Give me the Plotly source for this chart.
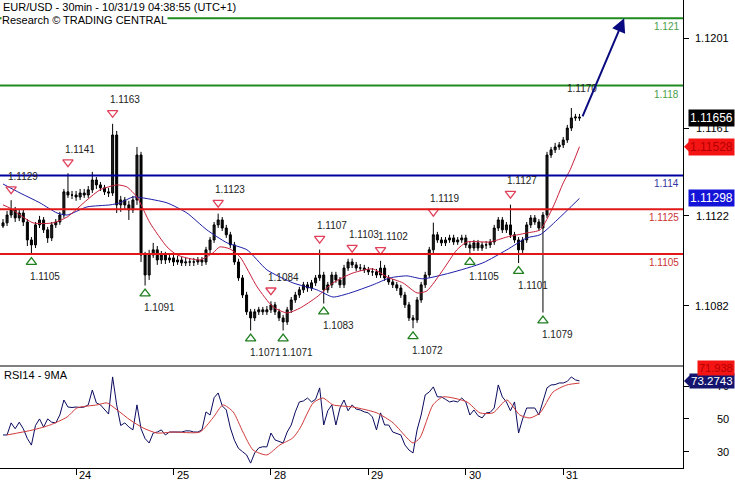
import plotly.graph_objects as go

# ---------------- data (hourly sampling of the 30-min chart) ----------------
bars = list(range(143))

closes = [1.11189, 1.11224, 1.11247, 1.11211, 1.11233, 1.11193, 1.11113, 1.11091, 1.11180, 1.11202,
          1.11158, 1.11122, 1.11180, 1.11193, 1.11224, 1.11327, 1.11313, 1.11313, 1.11304, 1.11322,
          1.11313, 1.11336, 1.11380, 1.11358, 1.11345, 1.11327, 1.11322, 1.11580, 1.11269, 1.11291,
          1.11269, 1.11247, 1.11291, 1.11491, 1.11046, 1.10957, 1.11046, 1.11069, 1.11024, 1.11046,
          1.11024, 1.11033, 1.11015, 1.11024, 1.11011, 1.11015, 1.11015, 1.11015, 1.11024, 1.11015,
          1.11069, 1.11113, 1.11180, 1.11202, 1.11166, 1.11136, 1.11091, 1.11015, 1.10944, 1.10868,
          1.10793, 1.10766, 1.10793, 1.10802, 1.10793, 1.10802, 1.10824, 1.10793, 1.10766, 1.10748,
          1.10802, 1.10846, 1.10868, 1.10891, 1.10913, 1.10899, 1.10922, 1.10944, 1.10957, 1.10891,
          1.10913, 1.10957, 1.10935, 1.10913, 1.10988, 1.11015, 1.11002, 1.10988, 1.10988, 1.10980,
          1.10971, 1.10971, 1.10957, 1.10988, 1.10944, 1.10926, 1.10913, 1.10899, 1.10868, 1.10824,
          1.10766, 1.10757, 1.10846, 1.10913, 1.10957, 1.11069, 1.11136, 1.11113, 1.11100, 1.11113,
          1.11122, 1.11104, 1.11113, 1.11122, 1.11091, 1.11077, 1.11100, 1.11077, 1.11091, 1.11091,
          1.11104, 1.11166, 1.11202, 1.11158, 1.11180, 1.11136, 1.11113, 1.11069, 1.11113, 1.11180,
          1.11211, 1.11193, 1.11166, 1.11224, 1.11491, 1.11514, 1.11527, 1.11536, 1.11558, 1.11611,
          1.11656, 1.11660, 1.11656]

opens = [1.11175, 1.11189, 1.11224, 1.11247, 1.11211, 1.11233, 1.11193, 1.11113, 1.11091, 1.11180,
         1.11202, 1.11158, 1.11122, 1.11180, 1.11193, 1.11224, 1.11327, 1.11313, 1.11313, 1.11304,
         1.11322, 1.11313, 1.11336, 1.11380, 1.11358, 1.11345, 1.11327, 1.11322, 1.11580, 1.11269,
         1.11291, 1.11269, 1.11247, 1.11291, 1.11491, 1.11046, 1.10957, 1.11046, 1.11069, 1.11024,
         1.11046, 1.11024, 1.11033, 1.11015, 1.11024, 1.11011, 1.11015, 1.11015, 1.11015, 1.11024,
         1.11015, 1.11069, 1.11113, 1.11180, 1.11202, 1.11166, 1.11136, 1.11091, 1.11015, 1.10944,
         1.10868, 1.10793, 1.10766, 1.10793, 1.10802, 1.10793, 1.10802, 1.10824, 1.10793, 1.10766,
         1.10748, 1.10802, 1.10846, 1.10868, 1.10891, 1.10913, 1.10899, 1.10922, 1.10944, 1.10957,
         1.10891, 1.10913, 1.10957, 1.10935, 1.10913, 1.10988, 1.11015, 1.11002, 1.10988, 1.10988,
         1.10980, 1.10971, 1.10971, 1.10957, 1.10988, 1.10944, 1.10926, 1.10913, 1.10899, 1.10868,
         1.10824, 1.10766, 1.10757, 1.10846, 1.10913, 1.10957, 1.11069, 1.11136, 1.11113, 1.11100,
         1.11113, 1.11122, 1.11104, 1.11113, 1.11122, 1.11091, 1.11077, 1.11100, 1.11077, 1.11091,
         1.11091, 1.11104, 1.11166, 1.11202, 1.11158, 1.11180, 1.11136, 1.11113, 1.11069, 1.11113,
         1.11180, 1.11211, 1.11193, 1.11166, 1.11224, 1.11491, 1.11514, 1.11527, 1.11536, 1.11558,
         1.11611, 1.11656, 1.11660]

highs = [1.11206, 1.11242, 1.11290, 1.11260, 1.11247, 1.11247, 1.11206, 1.11126, 1.11193, 1.11220,
         1.11215, 1.11171, 1.11193, 1.11206, 1.11238, 1.11340, 1.11410, 1.11331, 1.11331, 1.11340,
         1.11340, 1.11353, 1.11416, 1.11393, 1.11371, 1.11358, 1.11345, 1.11630, 1.11598, 1.11309,
         1.11304, 1.11287, 1.11309, 1.11527, 1.11505, 1.11060, 1.11069, 1.11100, 1.11086, 1.11064,
         1.11060, 1.11051, 1.11046, 1.11042, 1.11037, 1.11033, 1.11033, 1.11033, 1.11037, 1.11037,
         1.11082, 1.11126, 1.11193, 1.11230, 1.11215, 1.11180, 1.11149, 1.11104, 1.11029, 1.10957,
         1.10882, 1.10806, 1.10806, 1.10815, 1.10815, 1.10819, 1.10840, 1.10837, 1.10806, 1.10779,
         1.10815, 1.10859, 1.10882, 1.10904, 1.10926, 1.10926, 1.10935, 1.10957, 1.11070, 1.10971,
         1.10926, 1.10971, 1.10971, 1.10948, 1.11002, 1.11029, 1.11030, 1.11015, 1.11006, 1.11002,
         1.10993, 1.10988, 1.10984, 1.11020, 1.11002, 1.10957, 1.10939, 1.10926, 1.10913, 1.10882,
         1.10837, 1.10779, 1.10859, 1.10926, 1.10971, 1.11082, 1.11190, 1.11149, 1.11126, 1.11126,
         1.11136, 1.11136, 1.11126, 1.11136, 1.11136, 1.11104, 1.11113, 1.11113, 1.11104, 1.11108,
         1.11117, 1.11180, 1.11215, 1.11215, 1.11193, 1.11270, 1.11149, 1.11126, 1.11126, 1.11193,
         1.11224, 1.11224, 1.11206, 1.11238, 1.11505, 1.11527, 1.11545, 1.11549, 1.11571, 1.11625,
         1.11700, 1.11674, 1.11674]

lows = [1.11166, 1.11175, 1.11211, 1.11193, 1.11197, 1.11175, 1.11086, 1.11050, 1.11077, 1.11166,
        1.11144, 1.11100, 1.11108, 1.11166, 1.11180, 1.11211, 1.11300, 1.11295, 1.11287, 1.11291,
        1.11300, 1.11300, 1.11322, 1.11340, 1.11331, 1.11313, 1.11304, 1.11309, 1.11233, 1.11238,
        1.11247, 1.11202, 1.11233, 1.11269, 1.11015, 1.10910, 1.10935, 1.11033, 1.11002, 1.11006,
        1.11006, 1.11011, 1.10997, 1.11002, 1.10997, 1.10997, 1.10997, 1.10997, 1.11002, 1.10997,
        1.11002, 1.11055, 1.11100, 1.11166, 1.11153, 1.11122, 1.11077, 1.11002, 1.10931, 1.10855,
        1.10779, 1.10710, 1.10752, 1.10779, 1.10779, 1.10779, 1.10788, 1.10779, 1.10752, 1.10710,
        1.10735, 1.10788, 1.10833, 1.10855, 1.10877, 1.10882, 1.10886, 1.10908, 1.10931, 1.10830,
        1.10877, 1.10899, 1.10922, 1.10899, 1.10899, 1.10975, 1.10988, 1.10975, 1.10975, 1.10966,
        1.10957, 1.10953, 1.10944, 1.10944, 1.10931, 1.10913, 1.10899, 1.10886, 1.10855, 1.10810,
        1.10752, 1.10720, 1.10744, 1.10833, 1.10899, 1.10944, 1.11055, 1.11100, 1.11086, 1.11086,
        1.11100, 1.11091, 1.11091, 1.11100, 1.11077, 1.11050, 1.11064, 1.11064, 1.11064, 1.11073,
        1.11077, 1.11091, 1.11153, 1.11144, 1.11144, 1.11122, 1.11100, 1.11010, 1.11055, 1.11100,
        1.11166, 1.11180, 1.11153, 1.10790, 1.11211, 1.11478, 1.11500, 1.11514, 1.11522, 1.11545,
        1.11598, 1.11643, 1.11643]

# moving averages (bar position, price)
ma_fast_bar = [0, 1.7, 7.4, 12.3, 15.8, 20.7, 23.9, 28.1, 30.5, 33, 36.2, 40.4, 42.9, 48.5, 51.7,
               53.4, 55.9, 58.4, 62.6, 66.5, 70, 73.2, 77.3, 81.3, 86.2, 91.1, 94.6, 98.5, 102, 104.4,
               108.4, 111.8, 114.3, 120, 124.1, 129, 132.3, 135.5, 138, 139.7, 142]
ma_fast = [1.11269, 1.11255, 1.11189, 1.11189, 1.11215, 1.11291, 1.11336, 1.11358, 1.11349, 1.11304,
           1.11189, 1.11082, 1.11046, 1.11024, 1.11055, 1.11082, 1.11073, 1.11037, 1.10904, 1.10815,
           1.10788, 1.10810, 1.10859, 1.10922, 1.10966, 1.10984, 1.10948, 1.10922, 1.10877, 1.10886,
           1.10980, 1.11069, 1.11104, 1.11104, 1.11126, 1.11144, 1.11158, 1.11260, 1.11367, 1.11425,
           1.11528]
ma_slow_bar = [0, 4.2, 9.1, 13.3, 15.8, 20.7, 26.4, 28.8, 32, 34.5, 40.4, 45.3, 50.2, 55.2, 60.1,
               65, 71.4, 77.3, 81.3, 85.5, 91.1, 95.3, 99.5, 103.4, 110.1, 118.2, 124.1, 129, 132.3,
               136.5, 142]
ma_slow = [1.11362, 1.11322, 1.11278, 1.11233, 1.11224, 1.11260, 1.11269, 1.11278, 1.11304, 1.11300,
           1.11278, 1.11233, 1.11158, 1.11100, 1.11069, 1.10980, 1.10922, 1.10891, 1.10859, 1.10877,
           1.10913, 1.10944, 1.10953, 1.10940, 1.10966, 1.11011, 1.11069, 1.11122, 1.11136, 1.11202,
           1.11298]

rsi = [40.2, 40.2, 47.6, 44.0, 48.0, 44.0, 38.0, 34.0, 46.0, 50.0,
       45.0, 50.0, 48.0, 47.6, 52.4, 61.6, 57.3, 57.0, 57.3, 57.0,
       57.3, 58.6, 67.7, 59.8, 58.6, 56.0, 53.0, 75.7, 58.6, 46.0,
       47.6, 45.1, 43.3, 58.6, 44.0, 38.0, 35.3, 41.4, 42.0, 43.3,
       40.2, 42.0, 42.0, 42.0, 42.0, 42.7, 42.7, 42.0, 42.0, 43.3,
       54.3, 52.4, 63.0, 65.9, 58.0, 55.5, 44.5, 37.0, 32.0, 30.0,
       28.0, 23.0, 29.2, 32.3, 33.0, 32.9, 41.4, 37.2, 36.0, 35.3,
       42.0, 46.3, 54.3, 60.4, 61.0, 62.8, 60.4, 62.0, 69.0, 46.3,
       55.0, 58.6, 46.3, 56.7, 61.6, 55.0, 58.6, 56.0, 55.5, 54.3,
       53.7, 51.2, 43.3, 53.7, 46.3, 46.3, 42.0, 41.0, 40.2, 34.1,
       31.0, 29.2, 43.3, 52.4, 64.7, 66.5, 69.6, 63.5, 63.5, 62.0,
       60.4, 61.0, 60.4, 62.8, 60.4, 52.4, 55.5, 52.0, 50.6, 53.7,
       54.0, 56.7, 70.8, 63.5, 60.4, 55.0, 60.4, 41.4, 50.0, 56.7,
       56.7, 56.7, 52.4, 60.0, 69.0, 70.8, 71.0, 72.0, 72.0, 73.0,
       75.7, 73.9, 73.2743]
rsi_ma_bar = [1, 7.4, 11.6, 15.8, 18.2, 23.2, 25.6, 28.1, 31.3, 34.5, 37.9, 41.9, 48.5, 51.7, 54.2,
              56.7, 59.1, 61.6, 65, 68.2, 71.4, 73.2, 76.4, 78.8, 81.3, 86.2, 92.1, 96.1, 99.5, 101,
              102.7, 105.9, 108.4, 114.3, 117.5, 120.7, 124.1, 127.3, 129.8, 132.3, 135.5, 138.9, 142]
rsi_ma = [40.2, 43.3, 46.3, 51.2, 56.7, 58.6, 59.8, 55.5, 49.4, 44.5, 41.4, 42.0, 42.0, 50.6, 58.6,
          54.3, 42.0, 31.0, 28.0, 34.1, 38.4, 44.5, 59.8, 62.8, 58.6, 57.3, 53.7, 47.6, 38.4, 35.3,
          38.4, 58.6, 63.5, 60.4, 53.7, 53.7, 61.6, 52.4, 50.6, 53.7, 66.5, 70.8, 71.938]

levels = [1.121, 1.118, 1.114, 1.1125, 1.1105]
level_labels = ["1.121", "1.118", "1.114", "1.1125", "1.1105"]

peak_bars = [2, 16, 27, 53, 66, 78, 86, 93, 106, 125]
peak_vals = [1.1129, 1.1141, 1.1163, 1.1123, 1.1084, 1.1107, 1.1103, 1.1102, 1.1119, 1.1127]
top_bar, top_val = 140, 1.1170
trough_bars = [7, 35, 61, 69, 79, 101, 115, 127, 133]
trough_vals = [1.1105, 1.1091, 1.1071, 1.1071, 1.1083, 1.1072, 1.1105, 1.1101, 1.1079]

day_bars = [18, 42, 66, 90, 114, 138]
day_labels = ["24", "25", "28", "29", "30", "31"]
price_ticks = [1.1082, 1.1122, 1.1161, 1.1201]
rsi_ticks = [30, 50, 70]
target_bar, target_price = 153, 1.121

title_line1 = "EUR/USD - 30min - 10/31/19 04:38:55 (UTC+1)"
title_line2 = "Research © TRADING CENTRAL"
rsi_title = "RSI14 - 9MA"

# ---------------- styles ----------------
FONT = "Liberation Sans, Arial, sans-serif"
level_colors = ["#1f8a1f", "#1f8a1f", "#0000a0", "#e01818", "#e01818"]
level_text_colors = ["#4a9e4a", "#4a9e4a", "#3333a0", "#cc3333", "#cc3333"]
PRICE_RANGE = [1.10552, 1.12181]
RSI_RANGE = [20.0, 82.4]
SPLIT = 0.218
LABEL_RIGHT = 48   # px right of the plot edge where axis labels end

fig = go.Figure()

fig.add_trace(go.Candlestick(
    x=bars, open=opens, high=highs, low=lows, close=closes,
    increasing=dict(line=dict(color="black", width=1), fillcolor="#202020"),
    decreasing=dict(line=dict(color="black", width=1), fillcolor="black"),
    whiskerwidth=0, showlegend=False, hoverinfo="skip"))

fig.add_trace(go.Scatter(x=ma_slow_bar, y=ma_slow, mode="lines",
                         line=dict(color="#1c1ca8", width=1, shape="spline", smoothing=0.6),
                         showlegend=False, hoverinfo="skip"))
fig.add_trace(go.Scatter(x=ma_fast_bar, y=ma_fast, mode="lines",
                         line=dict(color="#c8203a", width=1, shape="spline", smoothing=0.6),
                         showlegend=False, hoverinfo="skip"))

# swing markers
fig.add_trace(go.Scatter(x=peak_bars, y=[v + 0.00049 for v in peak_vals], mode="markers",
                         marker=dict(symbol="triangle-down-open", size=9, color="#e0405a",
                                     line=dict(width=1.3, color="#e0405a")),
                         showlegend=False, hoverinfo="skip"))
fig.add_trace(go.Scatter(x=trough_bars, y=[v - 0.00036 for v in trough_vals], mode="markers",
                         marker=dict(symbol="triangle-up-open", size=9, color="#1f7f1f",
                                     line=dict(width=1.3, color="#1f7f1f")),
                         showlegend=False, hoverinfo="skip"))

# RSI panel
fig.add_trace(go.Scatter(x=bars, y=rsi, yaxis="y2", mode="lines",
                         line=dict(color="#0a0a60", width=1), showlegend=False, hoverinfo="skip"))
fig.add_trace(go.Scatter(x=rsi_ma_bar, y=rsi_ma, yaxis="y2", mode="lines",
                         line=dict(color="#d03a3a", width=1, shape="spline", smoothing=0.6),
                         showlegend=False, hoverinfo="skip"))

shapes = []
annotations = []

for lv, lab, col, tcol in zip(levels, level_labels, level_colors, level_text_colors):
    shapes.append(dict(type="line", xref="paper", x0=0, x1=1, yref="y", y0=lv, y1=lv,
                       line=dict(color=col, width=2), layer="above"))
    annotations.append(dict(xref="paper", x=1, xanchor="right", xshift=-2, yref="y", y=lv,
                            yanchor="top", yshift=-1, text=lab, showarrow=False,
                            font=dict(size=10, color=tcol, family=FONT)))

# panel separator
shapes.append(dict(type="line", xref="paper", x0=0, x1=1, yref="paper", y0=SPLIT, y1=SPLIT,
                   line=dict(color="black", width=1.2)))

# swing labels
for b, v in zip(peak_bars, peak_vals):
    annotations.append(dict(x=b, y=v, xanchor="left", xshift=-5, yanchor="middle", yshift=24,
                            text=f"{v:.4f}", showarrow=False,
                            font=dict(size=10, color="#222222", family=FONT)))
annotations.append(dict(x=top_bar, y=top_val, xanchor="left", xshift=-6, yanchor="middle", yshift=20,
                        text=f"{top_val:.4f}", showarrow=False,
                        font=dict(size=10, color="#222222", family=FONT)))
for b, v in zip(trough_bars, trough_vals):
    annotations.append(dict(x=b, y=v, xanchor="left", xshift=-3, yanchor="middle", yshift=-22,
                            text=f"{v:.4f}", showarrow=False,
                            font=dict(size=10, color="#222222", family=FONT)))

# target arrow
annotations.append(dict(x=target_bar, y=target_price, ax=bars[-1] + 0.6, ay=closes[-1],
                        xref="x", yref="y", axref="x", ayref="y", text="", showarrow=True,
                        arrowhead=2, arrowsize=1.4, arrowwidth=2, arrowcolor="#0a0a80"))

# titles
annotations.append(dict(xref="paper", yref="paper", x=0, y=1, xanchor="left", yanchor="middle",
                        xshift=1, yshift=-7, text=title_line1, showarrow=False,
                        font=dict(size=11, color="black", family=FONT)))
annotations.append(dict(xref="paper", yref="paper", x=0, y=1, xanchor="left", yanchor="middle",
                        xshift=1, yshift=-20, text=title_line2, showarrow=False, bgcolor="white",
                        borderpad=0, font=dict(size=11, color="black", family=FONT)))
annotations.append(dict(xref="paper", yref="paper", x=0, y=SPLIT, xanchor="left", yanchor="middle",
                        xshift=2, yshift=-9, text=rsi_title, showarrow=False,
                        font=dict(size=11, color="black", family=FONT)))

# x day labels (to the right of each tick)
for b, lab in zip(day_bars, day_labels):
    annotations.append(dict(x=b, xref="x", yref="paper", y=0, xanchor="left", yanchor="top",
                            xshift=1, yshift=1, text=lab, showarrow=False,
                            font=dict(size=11, color="black", family=FONT)))

# right-aligned axis tick labels
for t in price_ticks:
    annotations.append(dict(xref="paper", x=1, xanchor="right", xshift=LABEL_RIGHT, yref="y", y=t,
                            yanchor="middle", text=f"{t:.4f}", showarrow=False,
                            font=dict(size=11, color="black", family=FONT)))
for t in rsi_ticks:
    annotations.append(dict(xref="paper", x=1, xanchor="right", xshift=LABEL_RIGHT, yref="y2", y=t,
                            yanchor="middle", text=str(t), showarrow=False,
                            font=dict(size=11, color="black", family=FONT)))

# right side value boxes
def value_box(val, txt, yref, bg, fg, shift=0, arrow=False, size=12):
    annotations.append(dict(xref="paper", x=1, xanchor="right", xshift=52,
                            yref=yref, y=val, yanchor="middle", yshift=shift, text=txt,
                            showarrow=False, bgcolor=bg, borderpad=1,
                            font=dict(size=size, color=fg, family=FONT)))
    if arrow:
        shapes.append(dict(type="path", xref="paper", xsizemode="pixel", xanchor=1,
                           yref=yref, ysizemode="pixel", yanchor=val,
                           path=f"M 1 {shift} L 8 {shift + 7} L 8 {shift - 7} Z",
                           fillcolor=bg, line=dict(width=0)))

value_box(closes[-1], f"{closes[-1]:.5f}", "y", "black", "white")
value_box(ma_fast[-1], f"{ma_fast[-1]:.5f}", "y", "#f41414", "#b40000", arrow=True)
value_box(ma_slow[-1], f"{ma_slow[-1]:.5f}", "y", "#1414d8", "white")
value_box(rsi[-1], f"{rsi[-1]:.4f}", "y2", "#14146e", "white", arrow=True, size=11.5)
value_box(rsi_ma[-1], f"{rsi_ma[-1]:.3f}", "y2", "#f41414", "#b40000", shift=15, size=11)

fig.update_layout(
    width=735, height=480,
    margin=dict(l=0, r=52, t=0, b=12),
    paper_bgcolor="white", plot_bgcolor="white",
    font=dict(family=FONT, size=11, color="black"),
    showlegend=False,
    xaxis=dict(range=[-0.74, 167.5], domain=[0, 1], anchor="y2",
               tickvals=day_bars, showticklabels=False,
               ticks="outside", ticklen=6, tickcolor="black",
               showline=True, linecolor="black", linewidth=1.2,
               showgrid=False, zeroline=False, rangeslider=dict(visible=False)),
    yaxis=dict(domain=[SPLIT, 1], range=PRICE_RANGE, side="right", anchor="x",
               tickvals=price_ticks, showticklabels=False,
               ticks="outside", ticklen=5, tickcolor="black",
               showline=True, linecolor="black", linewidth=1.2,
               showgrid=False, zeroline=False),
    yaxis2=dict(domain=[0, SPLIT], range=RSI_RANGE, side="right", anchor="x",
                tickvals=rsi_ticks, showticklabels=False,
                ticks="outside", ticklen=5, tickcolor="black",
                showline=True, linecolor="black", linewidth=1.2,
                showgrid=False, zeroline=False),
    shapes=shapes, annotations=annotations,
)

fig.write_html("out.html", config={"displayModeBar": False},
               post_script="document.body.style.margin='0px';document.body.style.overflow='hidden';")
